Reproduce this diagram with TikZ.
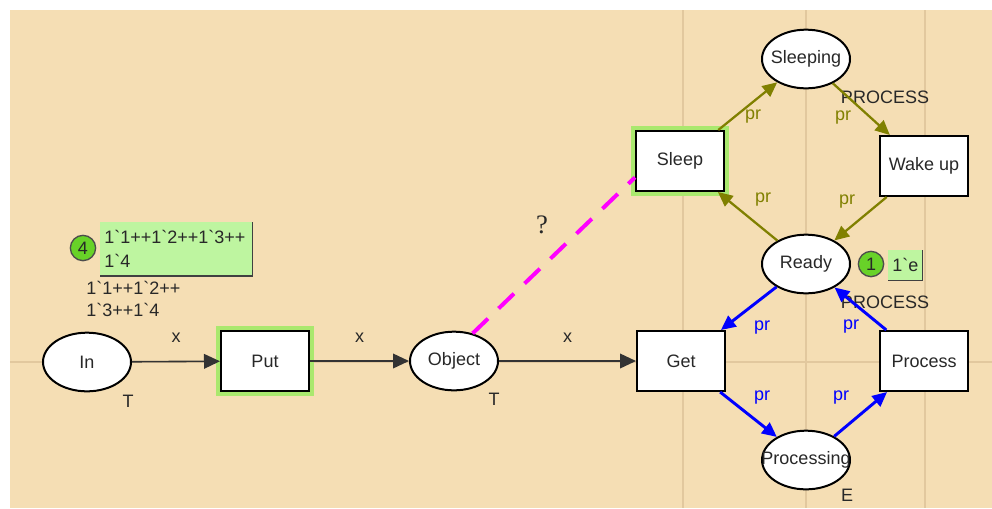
\documentclass[tikz,border=0pt]{standalone}
\usepackage{fontspec}
\setmainfont{Liberation Serif}
\setsansfont{Liberation Sans}
\usepackage{tikz}
\usetikzlibrary{positioning,arrows.meta,shapes.geometric}
\definecolor{fondo}{RGB}{245,222,180}
\definecolor{rejilla}{RGB}{226,200,158}
\definecolor{oliva}{RGB}{128,128,0}
\definecolor{azul}{RGB}{0,0,255}
\definecolor{rosa}{RGB}{255,0,255}
\definecolor{brillo}{RGB}{170,232,110}
\definecolor{ficha}{RGB}{104,210,40}
\definecolor{marca}{RGB}{190,245,160}
\definecolor{texto}{RGB}{40,40,40}
\newcommand{\bq}{\textasciigrave}
\newcommand{\ctr}[1]{\makebox[0pt]{#1}}

\begin{document}
\begin{tikzpicture}[x=0.75pt, y=-0.75pt, font=\sffamily\fontsize{13.5}{16}\selectfont, text=texto,
    lugar/.style={ellipse, draw=black, line width=1.5pt, fill=white, minimum width=66pt, minimum height=44pt, inner sep=0pt},
    transicion/.style={rectangle, draw=black, line width=1.5pt, fill=white, minimum width=66pt, minimum height=45pt},
    brilla/.style={preaction={draw=brillo, line width=8pt}},
    arco/.style={draw=black!80, line width=1.2pt, -{Triangle[length=12pt,width=11pt]}},
    arcoliva/.style={draw=oliva, line width=1.7pt, -{Triangle[length=11pt,width=10pt]}},
    arcazul/.style={draw=azul, line width=2.2pt, -{Triangle[length=11pt,width=10pt]}},
    prol/.style={text=oliva, inner sep=0pt},
    praz/.style={text=azul, inner sep=0pt},
    ficha/.style={circle, draw=black!70, line width=1pt, fill=ficha, minimum size=19pt, inner sep=0pt},
    marca/.style={fill=marca, anchor=north west, align=left, inner xsep=3pt, inner ysep=2pt},
    borde/.style={draw=black!75, line width=1pt}]
  \useasboundingbox (0,0) rectangle (992,508);
  \fill[white] (0,0) rectangle (992,508);
  \fill[fondo] (10,10) rectangle (992,508);
  \foreach \gx in {683,806,925} {
    \draw[rejilla, line width=1.5pt] (\gx,10) -- (\gx,508);
  }
  \draw[rejilla, line width=1.5pt] (10,362) -- (992,362);

  % lugares y transiciones
  \node[lugar] (In) at (87,362) {\ctr{In}};
  \node[transicion, brilla] (Put) at (265,361) {Put};
  \node[lugar] (Object) at (454,361) {\ctr{Object}};
  \node[transicion] (Get) at (681,361) {Get};
  \node[transicion] (Process) at (924,361) {Process};
  \node[lugar] (Ready) at (806,264) {\ctr{Ready}};
  \node[lugar] (Processing) at (806,460) {\ctr{Processing}};
  \node[transicion, brilla] (Sleep) at (680,161) {Sleep};
  \node[transicion] (Wakeup) at (924,166) {Wake up};
  \node[lugar] (Sleeping) at (806,59) {\ctr{Sleeping}};

  \node (tIn) at (128,401) {T};
  \node (tObject) at (494,399) {T};
  \node (tProcessing) at (847,495) {E};
  \node (tSleeping) at (885,97) {PROCESS};
  \node (tReady) at (885,302) {PROCESS};

  % arcos
  \draw[arco] (In) -- node[above=10pt] (xIn) {x} (Put);
  \draw[arco] (Put) -- node[above=10pt] (xPut) {x} (Object);
  \draw[arco] (Object) -- node[above=10pt] (xObject) {x} (Get);

  \draw[arcoliva] (Sleep) -- (Sleeping);
  \draw[arcoliva] (Sleeping) -- (Wakeup);
  \draw[arcoliva] (Wakeup) -- (Ready);
  \draw[arcoliva] (Ready) -- (Sleep);
  \node[prol] (pr1) at (753,117) {pr};
  \node[prol] (pr2) at (843,118) {pr};
  \node[prol] (pr3) at (847,202) {pr};
  \node[prol] (pr4) at (763,200) {pr};

  \draw[arcazul] (Ready) -- (Get);
  \draw[arcazul] (Get) -- (Processing);
  \draw[arcazul] (Processing) -- (Process);
  \draw[arcazul] (Process) -- (Ready);
  \node[praz] (pr5) at (762,328) {pr};
  \node[praz] (pr6) at (851,327) {pr};
  \node[praz] (pr7) at (762,398) {pr};
  \node[praz] (pr8) at (841,398) {pr};

  \draw[rosa, line width=3pt, dash pattern=on 16pt off 11pt] (Object.56) -- (Sleep.200);
  \node[font=\rmfamily\fontsize{20}{22}\selectfont] (duda) at (542,225) {?};

  % marcas
  \node[ficha] (f4) at (83,248) {4};
  \node[marca, text width=108pt, minimum height=40pt, font=\sffamily\fontsize{13.5}{18}\selectfont] (m4) at (100,222) {1\bq1++1\bq2++1\bq3++\\1\bq4};
  \draw[borde] (m4.north east) -- (m4.south east) -- (m4.south west);
  \node[anchor=west, align=left, inner sep=0pt, font=\sffamily\fontsize{13.5}{16.5}\selectfont] (i4) at (86,299) {1\bq1++1\bq2++\\1\bq3++1\bq4};

  \node[ficha] (f1) at (871,264) {1};
  \node[marca, minimum width=25.5pt, minimum height=22.5pt] (m1) at (888,250) {1\bq e};
  \draw[borde] (m1.north east) -- (m1.south east) -- (m1.south west);
\end{tikzpicture}
\end{document}
